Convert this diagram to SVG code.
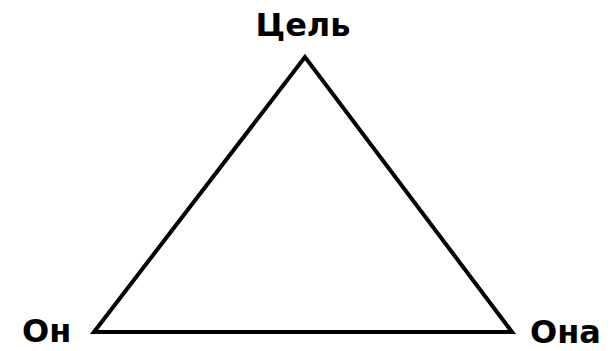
<svg xmlns="http://www.w3.org/2000/svg" width="614" height="351" viewBox="0 0 614 351">
<style>
.lbl{font-family:"DejaVu Sans","Liberation Sans",sans-serif;font-weight:bold;font-size:32px;fill:#000}
.edge{stroke:#000;stroke-width:4;fill:none;stroke-linejoin:miter}
</style>
<rect width="614" height="351" fill="#fff"/>
<g id="connectors">
<polygon class="edge" points="305,57 94,332 512,332"/>
</g>
<g id="node-goal"><text class="lbl" x="303" y="36" text-anchor="middle">Цель</text></g>
<g id="node-he"><text class="lbl" x="22" y="342">Он</text></g>
<g id="node-she"><text class="lbl" x="530" y="343">Она</text></g>
</svg>
